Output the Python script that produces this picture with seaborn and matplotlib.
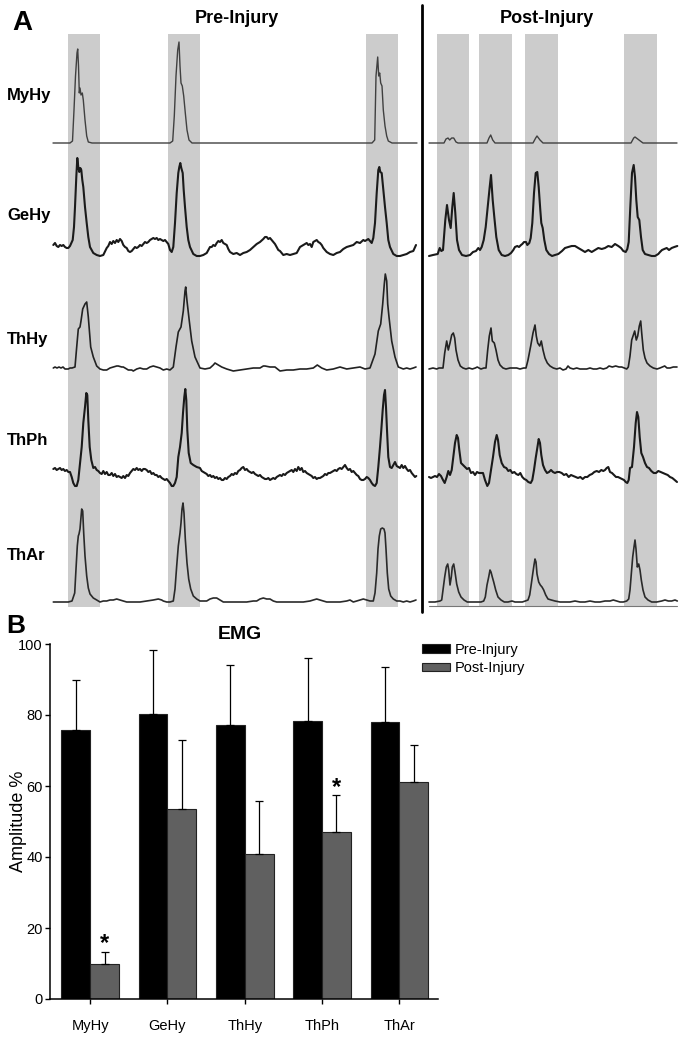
import numpy as np
import pandas as pd
import matplotlib
matplotlib.use("Agg")
import matplotlib.pyplot as plt
import seaborn as sns

sns.set_style("ticks")
plt.rcParams["font.family"] = ["Liberation Sans", "DejaVu Sans"]
plt.rcParams.update({"text.color": "black", "axes.labelcolor": "black",
                     "xtick.color": "black", "ytick.color": "black",
                     "axes.edgecolor": "black"})

# ---------------- Panel B data ----------------
muscles = ["MyHy", "GeHy", "ThHy", "ThPh", "ThAr"]
conditions = ["Pre-Injury", "Post-Injury"]
pre_mean = [75.8, 80.3, 77.2, 78.3, 77.9]
pre_sd = [14.1, 17.9, 16.8, 17.8, 15.5]
post_mean = [9.9, 53.6, 40.9, 47.0, 61.0]
post_sd = [3.4, 19.4, 15.0, 10.4, 10.5]
post_significant = ["MyHy", "ThPh"]
yticks = [0, 20, 40, 60, 80, 100]

# ---------------- Panel A data (time sample, amplitude) ----------------
rows = ["MyHy", "GeHy", "ThHy", "ThPh", "ThAr"]
pre_bursts = [(68.3, 100), (167.7, 200.3), (366, 398.3)]
post_bursts = [(436.7, 469), (479, 511.7), (525, 557.7), (624, 656.7)]

PRE_MYHY = [(53,0),(70,0),(72.5,2),(74,33),(75.5,67),(77,90),(77.7,94),(78.5,77),(79.3,50),(80,55),(81,48),(82.3,50),(83.3,43),(85,23),(86.7,7),(88.3,1),(92,0),(170,0),(172.7,2),(174.3,27),(176,67),(177.7,93),(179,101),(180,77),(181,60),(182.3,57),(183.7,47),(185.3,30),(187,13),(189,3),(192,0),(372,0),(374.7,3),(376,67),(377.7,86),(378.7,67),(379.7,70),(380.7,60),(382,57),(383.3,33),(385,17),(386.7,7),(388.3,2),(392,0),(417,0)]
POST_MYHY = [(429,0),(444,0),(446,4),(448,5),(449.7,3),(451.7,5),(453.7,5),(456,1),(458,0),(487,0),(489,5),(490.7,8),(492.7,3),(495,0),(533,0),(535.7,5),(537,7),(540,3),(543,0),(631,0),(633.7,5),(635,6),(637.7,4),(640.3,2),(643,0),(677,0)]

PRE_GEHY = [(53.3,11),(55,13),(56.7,10),(58.3,9),(60,11),(61.7,10),(63.3,11),(65,9),(66.7,8),(68.3,8),(70,10),(72.7,16),(74,29),(75,49),(76.3,79),(77.3,98),(78.3,89),(79.3,84),(80.3,88),(81.3,86),(82.3,76),(83.3,69),(85,49),(86.7,33),(88.3,19),(90,9),(93.3,3),(96.7,1),(100,0),(103.3,1),(106.7,8),(108.3,10),(110,14),(111.7,12),(113.3,15),(115,13),(116.7,16),(118.3,14),(120,17),(121.7,15),(123.3,11),(125,9),(126.7,8),(128.3,5),(130,4),(131.7,5),(133.3,7),(135,9),(136.7,8),(138.3,9),(140,11),(141.7,10),(143.3,12),(145,14),(146.7,13),(148.3,14),(150,16),(151.7,17),(153.3,18),(155,17),(156.7,18),(158.3,16),(160,17),(161.7,16),(163.3,15),(165,16),(166.7,14),(168.3,12),(170,6),(171.7,4),(173.3,9),(175,33),(176.7,63),(178.3,83),(179.3,89),(180.3,93),(181.3,88),(182.7,83),(183.7,66),(185,49),(186.7,29),(188.3,16),(190,9),(193.3,2),(196.7,0),(200,0),(203.3,1),(206.7,3),(208.3,6),(210,9),(211.7,9),(213.3,11),(215,10),(216.7,13),(218.3,15),(220,14),(221.7,16),(223.3,13),(225,12),(226.7,11),(228.3,7),(230,4),(231.7,3),(233.3,2),(236.7,3),(240,1),(243.3,3),(246.7,4),(250,6),(253.3,9),(256.7,12),(260,14),(263.3,17),(265,19),(266.7,19),(268.3,17),(270,18),(271.7,16),(273.3,14),(275,12),(276.7,9),(278.3,6),(280,5),(283.3,1),(286.7,2),(290,1),(293.3,2),(296.7,3),(300,9),(303.3,11),(306.7,13),(308.3,11),(310,12),(311.7,9),(313.3,14),(315,15),(316.7,16),(318.3,14),(320,13),(321.7,11),(323.3,8),(325,6),(326.7,4),(330,2),(333.3,1),(336.7,3),(340,4),(343.3,7),(346.7,9),(350,10),(353.3,11),(356.7,14),(360,13),(363.3,16),(365,15),(366.7,16),(368.3,17),(370,15),(371.7,13),(373.3,18),(375,33),(376.7,63),(378.3,86),(379.3,89),(380.3,84),(381.7,83),(383.3,66),(385,49),(386.7,33),(388.3,16),(390,9),(393.3,2),(396.7,0),(400,0),(403.3,1),(406.7,2),(410,4),(413.3,5),(416,11)]
POST_GEHY = [(429,0),(433,1),(437.7,2),(439.7,8),(441.3,5),(443,6),(445.3,36),(447,51),(449,36),(450.7,28),(452.3,49),(453.7,63),(455.3,43),(457,16),(459,6),(462,1),(466,0),(470,1),(473,4),(476,5),(478.3,8),(480,6),(481.7,9),(483.7,16),(485.7,29),(487.7,49),(489.7,69),(491,81),(492.7,56),(494.3,39),(496.3,19),(498.7,6),(501.7,1),(505,0),(508.3,1),(511,3),(513.3,6),(515,9),(517.3,10),(519,9),(521,11),(522.3,12),(524,14),(526,14),(527.3,11),(529.3,13),(530.7,18),(532.3,33),(534,63),(535.7,83),(537.3,84),(538.7,69),(540.3,46),(541.3,33),(542.7,28),(544.3,16),(546.3,6),(549,2),(552,0),(555,1),(558.3,2),(562,5),(565,8),(568.3,9),(571.7,10),(575,10),(578.3,8),(581.7,6),(585,4),(588.3,6),(591.7,4),(595,6),(598.3,8),(601.7,7),(605,8),(608.3,10),(611.7,9),(615,12),(618.3,10),(621,8),(623.3,5),(625.7,4),(627.3,7),(628.7,14),(630.3,49),(632,83),(633.7,91),(635,79),(636.3,56),(637.7,39),(639.3,36),(641,19),(642.7,6),(645,2),(648.3,1),(651.7,0),(655,0),(658.3,2),(660,4),(662,6),(664.3,7),(666.7,8),(669,6),(671.7,8),(674.3,9),(677.3,10)]

PRE_THHY = [(53.3,1),(55,2),(57,1),(59,2),(61,1),(63,2),(65,0),(68.3,0),(70,1),(72,1),(75,2),(76.7,22),(78.3,40),(80,42),(81,48),(82.7,60),(85,65),(86.7,67),(88.3,52),(90.7,22),(93.3,12),(96.7,3),(100,0),(103.3,-1),(106.7,-1),(110,1),(113.3,2),(116.7,3),(118.3,3),(121.7,2),(123.3,2),(126.7,0),(128.3,-1),(131.7,-1),(133.3,-2),(136.7,0),(140,1),(143.3,0),(146.7,0),(150,2),(153.3,3),(156.7,2),(160,1),(163.3,-1),(166.7,0),(170,-1),(173.3,2),(176,22),(178.3,37),(181,42),(183.3,58),(185,78),(185.7,82),(187,68),(189.3,48),(191.7,28),(195,12),(200,1),(205,0),(210,1),(213.3,4),(215,6),(218.3,4),(221.7,2),(226.7,0),(230,-1),(233.3,-2),(240,-1),(246.7,0),(253.3,1),(260,1),(263.3,3),(265,3),(270,2),(275,2),(280,-2),(286.7,-1),(293.3,-1),(300,0),(306.7,0),(313.3,1),(317.3,4),(321.7,1),(326.7,-1),(333.3,0),(340,2),(346.7,0),(353.3,1),(360,2),(365,0),(370,1),(375,15),(378.3,38),(380.7,45),(382.7,65),(384.3,85),(385.3,95),(386.7,88),(387.7,65),(389,52),(391.7,28),(395,12),(398.3,2),(403.3,0),(406.7,1),(410,0),(413.3,1),(416,2)]
POST_THHY = [(429,0),(433,1),(436.7,0),(439,1),(443,1),(444.7,16),(446.7,28),(448.3,19),(450,26),(451.7,34),(453.3,36),(454.7,31),(456,19),(458,9),(460.3,3),(463,1),(466,0),(469,1),(472.3,0),(475.3,1),(477.3,2),(479,1),(481,0),(484,1),(486,1),(487.7,19),(489.3,33),(491,41),(492.3,28),(494.3,26),(496,19),(498,9),(500,4),(503,1),(506,0),(510,1),(513,1),(516.7,1),(520,0),(523.7,1),(526,1),(528,9),(530.7,23),(533,36),(535,44),(536.3,33),(537.7,26),(539.7,23),(541.3,28),(543,19),(545,11),(547.3,6),(550,3),(553.3,1),(556.7,0),(560,1),(563,-1),(566,0),(568,3),(570,1),(573.3,0),(576.7,1),(580,0),(583.3,0),(586.7,0),(590,1),(593.3,0),(596.7,0),(600,1),(603.3,0),(606.7,1),(609,3),(612.3,2),(615.7,3),(619,2),(621.7,2),(624.3,1),(626.7,0),(628.3,2),(630,13),(631.7,29),(634.7,38),(636.3,29),(637.7,33),(639.3,43),(640.7,48),(641.7,36),(643.3,19),(645,11),(647,6),(650,3),(653.3,1),(657,0),(660,1),(664.7,3),(667,1),(670,1),(673.3,2),(677,2)]

PRE_THPH = [(53.3,11),(55,12),(56.7,10),(58.3,11),(60,12),(61.7,10),(63.3,11),(65,9),(66.7,10),(68.3,8),(70,8),(71.7,3),(73.3,-3),(75,-6),(76.7,-6),(78.3,0),(80,17),(81.7,33),(83.3,57),(85,73),(86.3,87),(87.3,85),(88.3,60),(89.7,33),(91.3,20),(93.3,12),(95,13),(96.7,10),(98.3,9),(100,7),(101.7,6),(103.3,9),(105,6),(106.7,8),(108.3,5),(110,5),(111.7,7),(113.3,4),(115,6),(116.7,3),(118.3,4),(120,3),(121.7,2),(123.3,4),(125,2),(126.7,5),(128.3,4),(130,7),(131.7,9),(133.3,11),(135,10),(136.7,12),(138.3,10),(140,11),(141.7,9),(143.3,11),(145,11),(146.7,10),(148.3,8),(150,9),(151.7,6),(153.3,7),(155,5),(156.7,5),(158.3,3),(160,4),(161.7,2),(163.3,1),(165,0),(166.7,1),(168.3,-1),(170,-3),(171.7,-6),(173.3,-6),(175,-3),(176.7,3),(178.3,23),(180,33),(181.7,47),(183,67),(184.3,83),(185.3,91),(186.3,80),(187.3,50),(188.7,27),(190.7,17),(193.3,15),(196.7,13),(200,12),(201.7,9),(203.3,8),(205,7),(206.7,6),(208.3,4),(210,5),(211.7,3),(213.3,4),(215,2),(216.7,3),(218.3,1),(220,2),(221.7,0),(223.3,0),(225,2),(226.7,1),(228.3,3),(230,4),(231.7,6),(233.3,5),(235,7),(236.7,6),(238.3,9),(240,10),(241.7,12),(243.3,13),(245,10),(246.7,11),(248.3,9),(250,8),(251.7,7),(253.3,8),(255,6),(256.7,5),(258.3,4),(260,5),(261.7,3),(263.3,2),(265,1),(266.7,1),(268.3,2),(270,0),(271.7,1),(273.3,2),(275,1),(276.7,3),(278.3,4),(280,5),(281.7,4),(283.3,6),(285,5),(286.7,7),(288.3,8),(290,9),(291.7,10),(293.3,8),(295,11),(296.7,9),(298.3,13),(300,10),(301.7,12),(303.3,8),(305,9),(306.7,7),(308.3,6),(310,5),(311.7,4),(313.3,2),(315,3),(316.7,1),(318.3,2),(320,2),(321.7,3),(323.3,4),(325,6),(326.7,5),(328.3,7),(330,7),(331.7,8),(333.3,9),(335,10),(336.7,9),(338.3,11),(340,12),(341.7,11),(343.3,13),(345,15),(346.7,12),(348.3,10),(350,11),(351.7,8),(353.3,9),(355,7),(356.7,5),(358.3,4),(360,1),(361.7,0),(363.3,0),(365,1),(366.7,3),(368.3,2),(370,0),(371.7,-3),(373.3,-5),(375,-6),(376.7,-3),(378.3,13),(380,33),(381.3,50),(382.7,70),(384,85),(385,90),(386,73),(387,50),(388.3,23),(390,13),(391.7,12),(393.3,15),(395,18),(396.7,14),(398.3,13),(400,12),(401.7,15),(403.3,12),(405,14),(406.7,11),(408.3,9),(410,10),(411.7,7),(413.3,5),(415,3),(416.3,4)]
POST_THPH = [(429,3),(431,2),(433,3),(435,4),(437,3),(439,6),(441,4),(443,0),(444.7,-3),(446.7,3),(448.3,9),(450,5),(451.7,10),(453.3,23),(455,37),(456.7,45),(458,42),(459.3,30),(461,17),(463,15),(465,13),(467,11),(469,12),(471,7),(473,8),(475,5),(477,8),(479,7),(481,7),(483,7),(485,0),(487.3,-6),(489,-3),(491,10),(493,23),(495,38),(496.7,45),(498,40),(499.7,25),(501.7,17),(504,13),(506.3,12),(508.3,9),(510.3,10),(512.3,7),(514.3,8),(516.3,6),(518.3,5),(520.3,7),(522.3,3),(524.3,1),(526.3,0),(528.3,-2),(530.7,-3),(532.3,0),(534,10),(535.7,22),(537.3,32),(538.7,41),(540,37),(541.3,25),(543,15),(545,10),(547,7),(549,8),(551,10),(553,8),(555,7),(557,8),(559.3,8),(561.7,7),(564,5),(566.3,6),(568.7,3),(571,5),(573.3,4),(575.7,3),(578,2),(580.3,3),(582.7,1),(585,3),(587.3,3),(589.7,5),(592,6),(594.3,8),(596.7,9),(599,8),(601.3,10),(603.3,9),(605,10),(606.7,12),(608.3,13),(610,8),(612,7),(614,5),(616,3),(618,3),(620,2),(622,1),(624,0),(625.7,-2),(627.3,-3),(628.7,0),(630,12),(632,13),(634,33),(635.7,57),(637,68),(638.3,63),(639.7,43),(641.3,27),(643,23),(645,17),(647,13),(649,12),(651.3,9),(653.7,7),(656,7),(658.3,9),(660.7,8),(663,7),(665.3,6),(667.7,5),(670,3),(672.3,2),(674.7,0),(677,-2)]

PRE_THAR = [(53.3,0),(60,0),(68.3,0),(72,1),(74.7,9),(76,33),(77.3,56),(78.3,66),(79,68),(80,73),(81.7,93),(82.7,91),(83.7,69),(85,46),(86.7,26),(88.3,14),(90,8),(93.3,4),(96.7,2),(100,0),(103.3,1),(106.7,1),(110,2),(113.3,2),(116.7,3),(120,2),(123.3,1),(126.7,0),(130,0),(133.3,0),(140,0),(146.7,1),(153.3,2),(158.3,3),(161.7,2),(163.3,1),(166.7,0),(170,0),(173.3,1),(175,13),(176.7,36),(178.3,56),(180,69),(181,79),(182,93),(183,99),(184,89),(185.3,63),(187,39),(188.7,23),(190.7,13),(193.3,6),(196.7,3),(200,1),(203.3,1),(206.7,1),(210,3),(213.3,4),(216.7,4),(220,2),(223.3,0),(226.7,0),(233.3,0),(240,0),(246.7,0),(253.3,1),(256.7,1),(260,3),(263.3,4),(266.7,3),(270,3),(273.3,1),(276.7,0),(283.3,0),(290,0),(296.7,0),(303.3,0),(310,1),(313.3,2),(316.7,3),(320,2),(323.3,1),(326.7,0),(333.3,0),(340,0),(346.7,1),(350,2),(353.3,0),(356.7,1),(360,2),(363.3,3),(366.7,2),(370,1),(373.3,1),(375,9),(376.7,29),(378,53),(379.3,66),(380.7,73),(382.3,74),(384,73),(385,69),(386,53),(387.3,29),(388.7,13),(390.7,6),(393.3,3),(396.7,1),(400,1),(403.3,0),(406.7,1),(410,0),(413.3,1),(416,2)]
POST_THAR = [(429,0),(435,0),(440,1),(441.7,2),(443,12),(444.7,25),(446.3,35),(447.7,38),(448.7,32),(450,17),(451.3,25),(452.3,35),(453.7,38),(455,30),(456.7,18),(458.7,10),(461,5),(464,2),(467.3,0),(471,0),(475,0),(478.3,0),(481,0),(483.7,1),(485.3,5),(487,17),(488.7,25),(490,32),(491,30),(492.3,25),(493.7,20),(495.7,12),(498,5),(501,2),(504.3,0),(508,0),(512,1),(515,0),(519,0),(522.3,0),(525.3,1),(528,2),(529.7,7),(531.3,18),(532.7,28),(534,37),(535,43),(536,40),(537,28),(538.7,20),(540.3,17),(542,15),(543.7,12),(545.7,7),(548,3),(551.3,2),(555,1),(560,0),(565,0),(570,0),(575,1),(580,0),(585,0),(590,1),(595,0),(600,0),(605,1),(610,1),(613.3,2),(616.7,1),(620,0),(623.3,0),(626.7,1),(628.7,3),(630,12),(631.3,28),(632.7,45),(634,55),(635,62),(636,53),(637.3,35),(638.7,38),(640,32),(641.3,22),(643,12),(645,5),(648,2),(651.7,0),(656.7,0),(661.7,1),(665,2),(668.3,1),(671.7,1),(675,2),(677.3,1)]

pre_traces = [PRE_MYHY, PRE_GEHY, PRE_THHY, PRE_THPH, PRE_THAR]
post_traces = [POST_MYHY, POST_GEHY, POST_THHY, POST_THPH, POST_THAR]

# ---------------- Layout ----------------
W, H = 685, 1041
fig = plt.figure(figsize=(W / 100, H / 100), dpi=100)

A_H = 615
row_base = [143, 256, 369, 480, 602]
row_label_base = [100, 220, 344, 445, 560]
row_lw = [1.0, 1.5, 1.2, 1.5, 1.2]
row_col = ["#404040", "#1a1a1a", "#222222", "#1a1a1a", "#2a2a2a"]

axA = fig.add_axes([0, 1 - A_H / H, 1, A_H / H])
band_color = "#cccccc"
for (a, b) in pre_bursts + post_bursts:
    axA.fill_between([a, b], 34, 607, color=band_color, lw=0, zorder=0)

for i, name in enumerate(rows):
    for tr in (pre_traces[i], post_traces[i]):
        t = np.array([p[0] for p in tr])
        v = np.array([p[1] for p in tr])
        sns.lineplot(x=t, y=row_base[i] - v, ax=axA, color=row_col[i],
                     lw=row_lw[i], estimator=None, sort=False, zorder=3)
    axA.text(7, row_label_base[i], name, fontsize=12, fontweight="bold",
             ha="left", va="baseline")

# separator between pre and post
axA.plot([422, 422], [5, 612], color="black", lw=2.0, zorder=4)
# bottom reference line of post traces
axA.plot([429, 677], [606, 606], color="#777777", lw=0.8, zorder=2)

axA.text(12, 30, "A", fontsize=20, fontweight="bold", ha="left", va="baseline")
axA.text(237, 23, "Pre-Injury", fontsize=13, fontweight="bold", ha="center", va="baseline")
axA.text(547, 23, "Post-Injury", fontsize=13, fontweight="bold", ha="center", va="baseline")
axA.set_xlim(0, W)
axA.set_ylim(A_H, 0)
axA.axis("off")

# ---------------- Panel B ----------------
df = pd.DataFrame({
    "muscle": muscles * 2,
    "condition": [conditions[0]] * 5 + [conditions[1]] * 5,
    "amp": pre_mean + post_mean,
})
axB = fig.add_axes([50 / W, 42 / H, 388 / W, 355 / H])
sns.barplot(data=df, x="muscle", y="amp", hue="condition", order=muscles,
            hue_order=conditions, palette=["#000000", "#606060"], saturation=1,
            width=0.745, gap=0, edgecolor="#222222", linewidth=0.8,
            errorbar=None, ax=axB)

for k, (cont, means, sds) in enumerate(zip(axB.containers, [pre_mean, post_mean], [pre_sd, post_sd])):
    xs = [p.get_x() + p.get_width() / 2 for p in cont]
    axB.errorbar(xs, means, yerr=[np.zeros(len(sds)), sds], fmt="none",
                 ecolor="black", elinewidth=0.9, capsize=3, capthick=0.9, zorder=1)
    if k == 1:
        for x, m, s, mu in zip(xs, means, sds, muscles):
            if mu in post_significant:
                axB.annotate("*", xy=(x, m + s), xytext=(0, 1), textcoords="offset points",
                             ha="center", va="baseline", fontsize=17, fontweight="bold")

handles, labels = axB.get_legend_handles_labels()
if axB.get_legend() is not None:
    axB.get_legend().remove()
axB.legend(handles, labels, loc="upper left",
           bbox_to_anchor=(422 / W, 1 - 642.7 / H), bbox_transform=fig.transFigure,
           frameon=False, prop={"size": 10.5},
           handlelength=1.92, handleheight=0.55, handletextpad=0.34,
           labelspacing=0.3, borderpad=0, borderaxespad=0)

axB.set_xlim(-0.52, 4.5)
axB.set_ylim(0, 100)
axB.set_yticks(yticks)
axB.set_xlabel("")
axB.set_ylabel("Amplitude %", fontsize=13)
axB.yaxis.set_label_coords(-0.06, 0.5)
for s in ["top", "right"]:
    axB.spines[s].set_visible(False)
for s in ["left", "bottom"]:
    axB.spines[s].set_linewidth(1.1)
    axB.spines[s].set_color("black")
axB.tick_params(axis="x", length=3.6, width=1.0, pad=11, direction="out", labelsize=10.5)
axB.tick_params(axis="y", length=3.6, width=1.0, pad=1.5, direction="out", labelsize=10.5)

fig.text(6 / W, 1 - 633 / H, "B", fontsize=19, fontweight="bold", ha="left", va="baseline")
fig.text(240 / W, 1 - 639 / H, "EMG", fontsize=14, fontweight="bold", ha="center", va="baseline")

fig.savefig("out.png", dpi=100)
